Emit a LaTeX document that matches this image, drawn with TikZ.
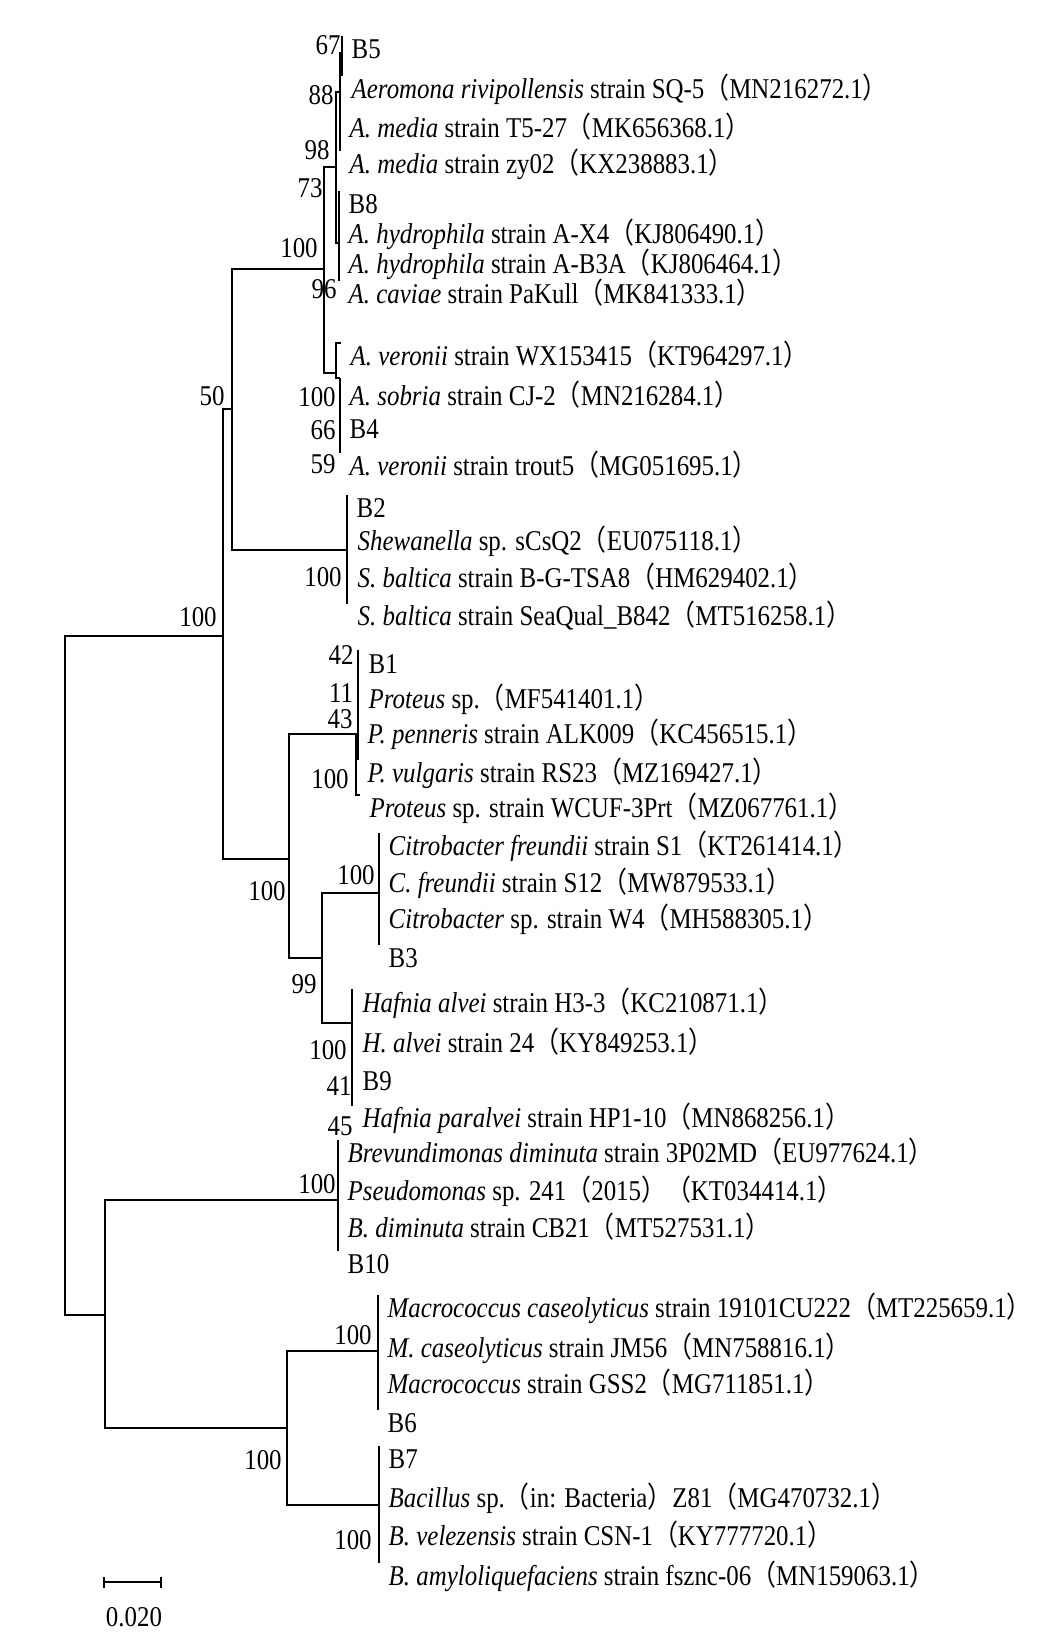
\documentclass[tikz,border=0pt]{standalone}
\usepackage{fontspec}
\setmainfont{Liberation Serif}[FakeStretch=0.87]
\newfontfamily\cjk{Noto Sans CJK SC}[FakeStretch=0.87]
\newcommand{\lpar}{{\cjk （}}
\newcommand{\rpar}{{\cjk ）}}
\tikzset{leaf/.style={anchor=north west, inner xsep=0.18cm, inner ysep=0pt, text height=0.43cm, text depth=0.1cm},
  boot/.style={inner sep=0pt}}
\begin{document}
\begin{tikzpicture}[x=0.02cm, y=-0.02cm, font=\fontsize{16.3}{19}\selectfont, line width=0.8pt]
\useasboundingbox (0,0) rectangle (1055,1646);

% leaves
\node[leaf] (b5) at (342,36) {B5};
\node[leaf] (sq5) at (342,76) {\textit{Aeromona rivipollensis} strain SQ-5\lpar MN216272.1\rpar};
\node[leaf] (t527) at (340,115) {\textit{A. media} strain T5-27\lpar MK656368.1\rpar};
\node[leaf] (zy02) at (340,151) {\textit{A. media} strain zy02\lpar KX238883.1\rpar};
\node[leaf] (b8) at (339,191) {B8};
\node[leaf] (ax4) at (339,221) {\textit{A. hydrophila} strain A-X4\lpar KJ806490.1\rpar};
\node[leaf] (ab3a) at (339,251) {\textit{A. hydrophila} strain A-B3A\lpar KJ806464.1\rpar};
\node[leaf] (pakull) at (339,281) {\textit{A. caviae} strain PaKull\lpar MK841333.1\rpar};
\node[leaf] (wx) at (341,343) {\textit{A. veronii} strain WX153415\lpar KT964297.1\rpar};
\node[leaf] (cj2) at (340,383) {\textit{A. sobria} strain CJ-2\lpar MN216284.1\rpar};
\node[leaf] (b4) at (340,416) {B4};
\node[leaf] (trout) at (340,453) {\textit{A. veronii} strain trout5\lpar MG051695.1\rpar};
\node[leaf] (b2) at (347,495) {B2};
\node[leaf] (scsq2) at (348,528) {\textit{Shewanella} sp. sCsQ2\lpar EU075118.1\rpar};
\node[leaf] (tsa8) at (348,565) {\textit{S. baltica} strain B-G-TSA8\lpar HM629402.1\rpar};
\node[leaf] (b842) at (348,603) {\textit{S. baltica} strain SeaQual\_B842\lpar MT516258.1\rpar};
\node[leaf] (b1) at (359,651) {B1};
\node[leaf] (mf) at (359,686) {\textit{Proteus} sp.\lpar MF541401.1\rpar};
\node[leaf] (alk) at (358,721) {\textit{P. penneris} strain ALK009\lpar KC456515.1\rpar};
\node[leaf] (rs23) at (358,760) {\textit{P. vulgaris} strain RS23\lpar MZ169427.1\rpar};
\node[leaf] (wcuf) at (360,795) {\textit{Proteus} sp. strain WCUF-3Prt\lpar MZ067761.1\rpar};
\node[leaf] (s1) at (379,833) {\textit{Citrobacter freundii} strain S1\lpar KT261414.1\rpar};
\node[leaf] (s12) at (379,870) {\textit{C. freundii} strain S12\lpar MW879533.1\rpar};
\node[leaf] (w4) at (379,906) {\textit{Citrobacter} sp. strain W4\lpar MH588305.1\rpar};
\node[leaf] (b3) at (379,945) {B3};
\node[leaf] (h33) at (353,990) {\textit{Hafnia alvei} strain H3-3\lpar KC210871.1\rpar};
\node[leaf] (h24) at (353,1030) {\textit{H. alvei} strain 24\lpar KY849253.1\rpar};
\node[leaf] (b9) at (353,1068) {B9};
\node[leaf] (hp110) at (353,1105) {\textit{Hafnia paralvei} strain HP1-10\lpar MN868256.1\rpar};
\node[leaf] (p02md) at (338,1140) {\textit{Brevundimonas diminuta} strain 3P02MD\lpar EU977624.1\rpar};
\node[leaf] (p241) at (338,1178) {\textit{Pseudomonas} sp. 241\lpar 2015\rpar\lpar KT034414.1\rpar};
\node[leaf] (cb21) at (338,1215) {\textit{B. diminuta} strain CB21\lpar MT527531.1\rpar};
\node[leaf] (b10) at (338,1251) {B10};
\node[leaf] (cu222) at (378,1295) {\textit{Macrococcus caseolyticus} strain 19101CU222\lpar MT225659.1\rpar};
\node[leaf] (jm56) at (378,1335) {\textit{M. caseolyticus} strain JM56\lpar MN758816.1\rpar};
\node[leaf] (gss2) at (378,1371) {\textit{Macrococcus} strain GSS2\lpar MG711851.1\rpar};
\node[leaf] (b6) at (378,1410) {B6};
\node[leaf] (b7) at (379,1446) {B7};
\node[leaf] (z81) at (379,1485) {\textit{Bacillus} sp.\lpar in: Bacteria\rpar Z81\lpar MG470732.1\rpar};
\node[leaf] (csn1) at (379,1523) {\textit{B. velezensis} strain CSN-1\lpar KY777720.1\rpar};
\node[leaf] (fsznc) at (379,1563) {\textit{B. amyloliquefaciens} strain fsznc-06\lpar MN159063.1\rpar};

% inner nodes
\coordinate (root) at (65,976);
\coordinate (na) at (223,636);
\coordinate (n50) at (232,409);
\coordinate (naer) at (324,269);
\coordinate (naeru) at (336,167);
\coordinate (n88) at (340,92);
\coordinate (n67) at (342,53);
\coordinate (n96) at (339,243);
\coordinate (naerl) at (336,373);
\coordinate (nsob) at (340,378);
\coordinate (nshew) at (347,550);
\coordinate (nent) at (289,859);
\coordinate (nprot) at (356,734);
\coordinate (npin) at (358,734);
\coordinate (nch) at (322,958);
\coordinate (ncit) at (379,893);
\coordinate (nhaf) at (352,1023);
\coordinate (nlow) at (105,1315);
\coordinate (nbrev) at (338,1200);
\coordinate (ngram) at (287,1428);
\coordinate (nmac) at (378,1351);
\coordinate (nbac) at (379,1505);

\draw (root) |- (na) (root) |- (nlow)
  (na) |- (n50) (na) |- (nent)
  (n50) |- (naer) (n50) |- (nshew)
  (naer) |- (naeru) (naer) |- (naerl)
  (naeru) |- (n88) (naeru) |- (n96)
  (n88) |- (n67) (n88) |- (t527.north west) (n88) |- (zy02.north west)
  (n67) |- (b5.north west) (n67) |- (sq5.north west)
  (n96) |- (b8.north west) (n96) |- (ax4.north west)
  (n96) |- (ab3a.north west) (n96) |- (pakull.north west)
  (naerl) |- (wx.north west) (naerl) |- (nsob)
  (nsob) |- (cj2.north west) (nsob) |- (b4.north west) (nsob) |- (trout.north west)
  (nshew) |- (b2.north west) (nshew) |- (scsq2.north west)
  (nshew) |- (tsa8.north west) (nshew) |- (b842.north west)
  (nent) |- (nprot) (nent) |- (nch)
  (nprot) |- (npin) (nprot) |- (wcuf.north west)
  (npin) |- (b1.north west) (npin) |- (mf.north west)
  (npin) |- (alk.north west) (npin) |- (rs23.north west)
  (nch) |- (ncit) (nch) |- (nhaf)
  (ncit) |- (s1.north west) (ncit) |- (s12.north west)
  (ncit) |- (w4.north west) (ncit) |- (b3.north west)
  (nhaf) |- (h33.north west) (nhaf) |- (h24.north west)
  (nhaf) |- (b9.north west) (nhaf) |- (hp110.north west)
  (nlow) |- (nbrev) (nlow) |- (ngram)
  (nbrev) |- (p02md.north west) (nbrev) |- (p241.north west)
  (nbrev) |- (cb21.north west) (nbrev) |- (b10.north west)
  (ngram) |- (nmac) (ngram) |- (nbac)
  (nmac) |- (cu222.north west) (nmac) |- (jm56.north west)
  (nmac) |- (gss2.north west) (nmac) |- (b6.north west)
  (nbac) |- (b7.north west) (nbac) |- (z81.north west)
  (nbac) |- (csn1.north west) (nbac) |- (fsznc.north west);

% bootstrap values
\node[boot] (bn67) at (328,45) {67};
\node[boot] (bn88) at (321,95) {88};
\node[boot] (bn98) at (317,150) {98};
\node[boot] (bn73) at (310,188) {73};
\node[boot] (bnaer) at (299,248) {100};
\node[boot] (bn96) at (324,289) {96};
\node[boot] (bnsob) at (317,397) {100};
\node[boot] (bn66) at (323,430) {66};
\node[boot] (bn59) at (323,464) {59};
\node[boot] (bn50) at (212,396) {50};
\node[boot] (bnshew) at (323,577) {100};
\node[boot] (bna) at (198,617) {100};
\node[boot] (bn42) at (341,655) {42};
\node[boot] (bn11) at (341,693) {11};
\node[boot] (bn43) at (340,719) {43};
\node[boot] (bnprot) at (330,779) {100};
\node[boot] (bncit) at (356,875) {100};
\node[boot] (bnent) at (267,891) {100};
\node[boot] (bn99) at (304,984) {99};
\node[boot] (bnhaf) at (328,1050) {100};
\node[boot] (bn41) at (339,1086) {41};
\node[boot] (bn45) at (340,1126) {45};
\node[boot] (bnbrev) at (317,1184) {100};
\node[boot] (bnmac) at (353,1335) {100};
\node[boot] (bngram) at (263,1460) {100};
\node[boot] (bnbac) at (353,1540) {100};

% scale bar
\coordinate (sbl) at (104,1582);
\coordinate (sbr) at (161,1582);
\draw (sbl) -- (sbr)
  ([yshift=0.11cm]sbl) -- ([yshift=-0.11cm]sbl)
  ([yshift=0.11cm]sbr) -- ([yshift=-0.11cm]sbr);
\node[boot] (sbt) at (134,1617) {0.020};
\end{tikzpicture}
\end{document}
